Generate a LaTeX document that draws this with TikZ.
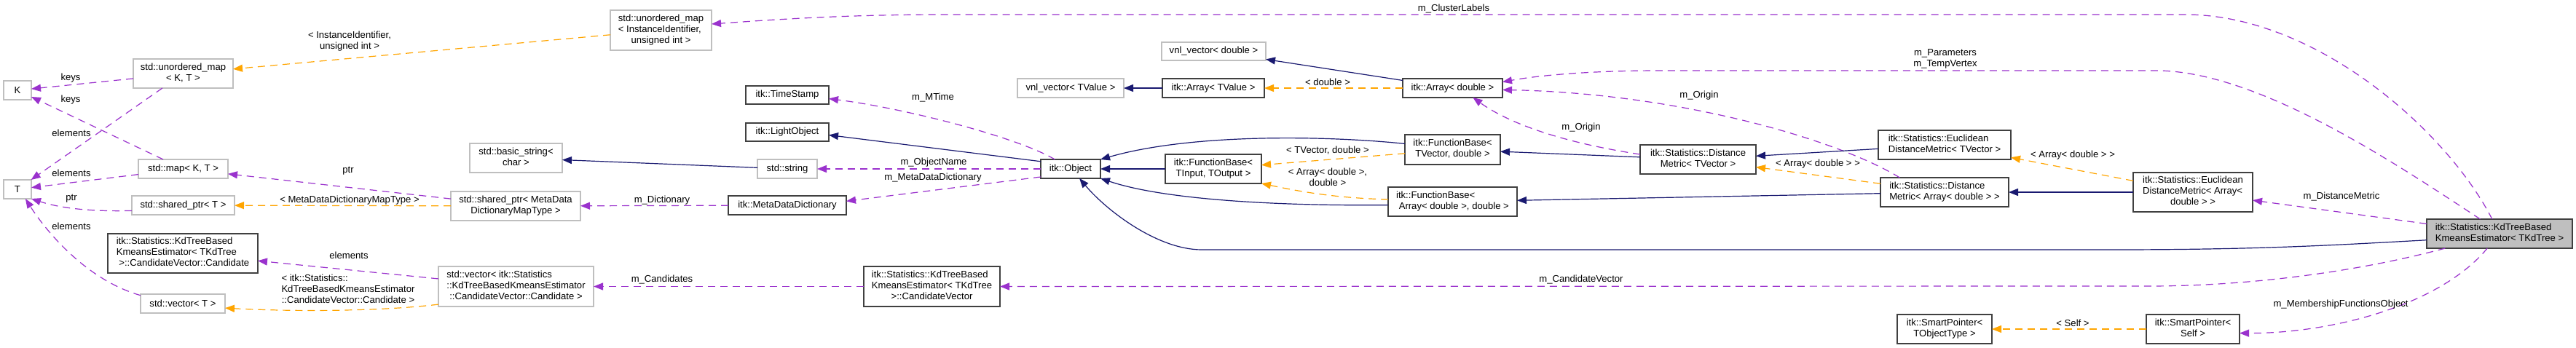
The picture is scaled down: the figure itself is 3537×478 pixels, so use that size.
\documentclass[tikz,border=0pt]{standalone}
\usepackage{fontspec}
\setmainfont{Liberation Sans}
\usetikzlibrary{arrows.meta}
\definecolor{dxpurple}{HTML}{9A32CD}
\definecolor{dxorange}{HTML}{FFA500}
\definecolor{dxnavy}{HTML}{191970}
\definecolor{dxgray}{HTML}{BFBFBF}
\definecolor{dxdark}{HTML}{404040}
\newcommand{\dxt}[1]{\begin{tabular}{@{}l@{}}#1\end{tabular}}
\newcommand{\dxc}[1]{\multicolumn{1}{@{}c@{}}{#1}}
\tikzset{
  gbox/.style={draw=dxgray, line width=1.3pt, fill=white},
  bbox/.style={draw=dxdark, line width=1.3pt, fill=white},
  kbox/.style={draw=dxdark, line width=1.3pt, fill=dxgray},
  sz/.style 2 args={minimum width=#1pt, minimum height=#2pt},
  tip/.style={-{Triangle[length=13pt,width=10pt]}},
  mem/.style={draw=dxpurple, line width=1.2pt, dash pattern=on 10pt off 7pt, tip},
  tpl/.style={draw=dxorange, line width=1.2pt, dash pattern=on 10pt off 7pt, tip},
  inh/.style={draw=dxnavy, line width=1.2pt, tip},
}
\begin{document}
\begin{tikzpicture}[x=1pt,y=-1pt, font=\fontsize{13.1}{15}\selectfont,
  every node/.style={inner sep=0pt, outer sep=0pt}]
\useasboundingbox (0,0) rectangle (3537,478);
\fill[white] (0,0) rectangle (3537,478);

% nodes
\node[gbox,sz={38}{26}] (K) at (24,124) {K};
\node[gbox,sz={38}{26}] (T) at (24,260) {T};
\node[gbox,sz={137}{40}] (umKT) at (251.5,101) {\dxt{std::unordered\_map\\\dxc{< K, T >}}};
\node[gbox,sz={123}{26}] (mapKT) at (251.5,232) {std::map< K, T >};
\node[gbox,sz={141}{26}] (sptrT) at (251.5,282) {std::shared\_ptr< T >};
\node[bbox,sz={206}{54}] (cand) at (251,348) {\dxt{itk::Statistics::KdTreeBased\\KmeansEstimator< TKdTree\\\dxc{\ >::CandidateVector::Candidate}}};
\node[gbox,sz={116}{26}] (vecT) at (251,417) {std::vector< T >};
\node[gbox,sz={139}{55}] (umII) at (907.5,41.5) {\dxt{std::unordered\_map\\< InstanceIdentifier,\\\dxc{unsigned int >}}};
\node[gbox,sz={127}{40}] (bstr) at (708.5,217) {\dxt{std::basic\_string<\\\dxc{char >}}};
\node[gbox,sz={178}{40}] (sptrM) at (708,283) {\dxt{std::shared\_ptr< MetaData\\\dxc{DictionaryMapType >}}};
\node[gbox,sz={213}{55}] (vecC) at (708.5,393.5) {\dxt{std::vector< itk::Statistics\\::KdTreeBasedKmeansEstimator\\\dxc{::CandidateVector::Candidate >}}};
\node[bbox,sz={114}{25}] (tstamp) at (1081,130.5) {itk::TimeStamp};
\node[bbox,sz={114}{25}] (lobj) at (1081,181.5) {itk::LightObject};
\node[gbox,sz={82}{26}] (str) at (1081,232) {std::string};
\node[bbox,sz={162}{26}] (mdd) at (1081,282) {itk::MetaDataDictionary};
\node[bbox,sz={82}{26}] (obj) at (1470,232) {itk::Object};
\node[gbox,sz={146}{26}] (vnlT) at (1470,121) {vnl\_vector< TValue >};
\node[bbox,sz={187}{55}] (cvec) at (1279.5,393.5) {\dxt{itk::Statistics::KdTreeBased\\KmeansEstimator< TKdTree\\\dxc{>::CandidateVector}}};
\node[gbox,sz={143}{25}] (vnlD) at (1666.5,70.5) {vnl\_vector< double >};
\node[bbox,sz={140}{26}] (arrT) at (1666,121) {itk::Array< TValue >};
\node[bbox,sz={132}{40}] (fbIO) at (1666,232) {\dxt{itk::FunctionBase<\\\dxc{TInput, TOutput >}}};
\node[bbox,sz={137}{26}] (arrD) at (1994.5,121) {itk::Array< double >};
\node[bbox,sz={131}{41}] (fbTV) at (1994.5,205.5) {\dxt{itk::FunctionBase<\\\dxc{TVector, double >}}};
\node[bbox,sz={177}{40}] (fbAD) at (1994.5,277) {\dxt{itk::FunctionBase<\\\dxc{\ Array< double >, double >}}};
\node[bbox,sz={159}{40}] (dmTV) at (2331.5,219) {\dxt{itk::Statistics::Distance\\\dxc{Metric< TVector >}}};
\node[bbox,sz={182}{40}] (edTV) at (2670,199) {\dxt{itk::Statistics::Euclidean\\\dxc{DistanceMetric< TVector >}}};
\node[bbox,sz={176}{40}] (dmAD) at (2670,264) {\dxt{itk::Statistics::Distance\\\dxc{Metric< Array< double > >}}};
\node[bbox,sz={130}{40}] (spTO) at (2670,452) {\dxt{itk::SmartPointer<\\\dxc{TObjectType >}}};
\node[bbox,sz={164}{54}] (edAD) at (3011,264) {\dxt{itk::Statistics::Euclidean\\DistanceMetric< Array<\\\dxc{double > >}}};
\node[bbox,sz={128}{40}] (spS) at (3011,452) {\dxt{itk::SmartPointer<\\\dxc{Self >}}};
\node[kbox,sz={200}{40}] (kd) at (3432,321) {\dxt{itk::Statistics::KdTreeBased\\\dxc{KmeansEstimator< TKdTree >}}};

% edges
\draw[mem] (umKT) -- (K);
\draw[mem] (mapKT) -- (K);
\draw[mem] (umKT) -- (T);
\draw[mem] (mapKT) -- (T);
\draw[mem] (sptrT.186) .. controls (120,291) and (80,285) .. (T.south east);
\draw[mem] (vecT.169) .. controls (120,385) and (65,320) .. (T.-50);
\draw[tpl] (umII) -- (umKT);
\draw[mem] (sptrM) -- (mapKT);
\draw[tpl] (sptrM) -- (sptrT);
\draw[mem] (vecC) -- (cand);
\draw[tpl] (vecC.193) .. controls (520,428) and (400,428) .. (vecT.-6);
\draw[mem] (mdd) -- (sptrM);
\draw[mem] (cvec) -- (vecC);
\draw[inh] (str) -- (bstr);
\draw[mem] (obj.149) .. controls (1400,190) and (1250,150) .. (tstamp.-5);
\draw[inh] (obj.166) -- (lobj.-4.5);
\draw[mem] (obj) -- (str);
\draw[mem] (obj.195) -- (mdd.4);
\draw[inh] (arrT) -- (vnlT);
\draw[inh] (fbIO) -- (obj);
\draw[inh] (fbTV.173) .. controls (1830,187) and (1640,182) .. (obj.north east);
\draw[inh] (fbAD.183) .. controls (1760,283) and (1600,275) .. (obj.south east);
\draw[inh] (kd.185) .. controls (3200,337) and (3100,343) .. (2900,343) -- (1650,343) .. controls (1590,343) and (1520,290) .. (obj.-47);
\draw[inh] (arrD) -- (vnlD);
\draw[tpl] (arrD) -- (arrT);
\draw[tpl] (fbTV) -- (fbIO);
\draw[tpl] (fbAD.178) .. controls (1830,272) and (1780,262) .. (fbIO.south east);
\draw[inh] (dmTV) -- (fbTV);
\draw[mem] (dmTV.175) .. controls (2140,195) and (2070,168) .. (arrD.-25);
\draw[inh] (dmAD) -- (fbAD);
\draw[tpl] (dmAD) -- (dmTV);
\draw[mem] (dmAD.162) .. controls (2520,190) and (2300,128) .. (arrD.-2);
\draw[inh] (edTV) -- (dmTV);
\draw[inh] (edAD) -- (dmAD);
\draw[tpl] (edAD) -- (edTV);
\draw[mem] (kd) -- (edAD);
\draw[mem] (kd.143) .. controls (3290,225) and (3100,97) .. (2960,97) -- (2280,97) .. controls (2180,97) and (2110,104) .. (arrD.7);
\draw[mem] (kd.117) .. controls (3360,180) and (3180,20) .. (3000,20) -- (1300,20) .. controls (1150,20) and (1050,28) .. (umII.7);
\draw[mem] (kd.195) .. controls (3250,370) and (3100,393) .. (2950,393) -- (cvec.east);
\draw[mem] (kd.230) .. controls (3350,420) and (3200,458) .. (spS.-5);
\draw[tpl] (spS) -- (spTO);

% edge labels
\node (lk1) at (97,107) {keys};
\node (lk2) at (97,137) {keys};
\node (le1) at (98,183) {elements};
\node (le2) at (98,238) {elements};
\node (lp1) at (98,273) {ptr};
\node (le3) at (98,311) {elements};
\node[align=center] (lii) at (480,57) {< InstanceIdentifier,\\unsigned int >};
\node (lp2) at (478,235) {ptr};
\node (lmd) at (480,275) {< MetaDataDictionaryMapType >};
\node (le4) at (479,351) {elements};
\node (lcand) at (478,398) {\dxt{< itk::Statistics::\\KdTreeBasedKmeansEstimator\\\dxc{::CandidateVector::Candidate >}}};
\node (ldict) at (909,275) {m\_Dictionary};
\node (lcands) at (909,384) {m\_Candidates};
\node (lmt) at (1281,134) {m\_MTime};
\node (lon) at (1282,223) {m\_ObjectName};
\node (lmdd) at (1281,244) {m\_MetaDataDictionary};
\node (lcl) at (1996,12) {m\_ClusterLabels};
\node (ld) at (1823,113) {< double >};
\node (ltv) at (1823,207) {< TVector, double >};
\node[align=center] (lad) at (1823,243) {< Array< double >,\\double >};
\node (lo1) at (2333,131) {m\_Origin};
\node (lo2) at (2171,175) {m\_Origin};
\node (la1) at (2496,225) {< Array< double > >};
\node (lcv) at (2171,384) {m\_CandidateVector};
\node[align=center] (lpt) at (2671,81) {m\_Parameters\\m\_TempVertex};
\node (la2) at (2846,213) {< Array< double > >};
\node (lself) at (2846,444) {< Self >};
\node (ldm) at (3215,270) {m\_DistanceMetric};
\node (lmf) at (3214,418) {m\_MembershipFunctionsObject};
\end{tikzpicture}
\end{document}
